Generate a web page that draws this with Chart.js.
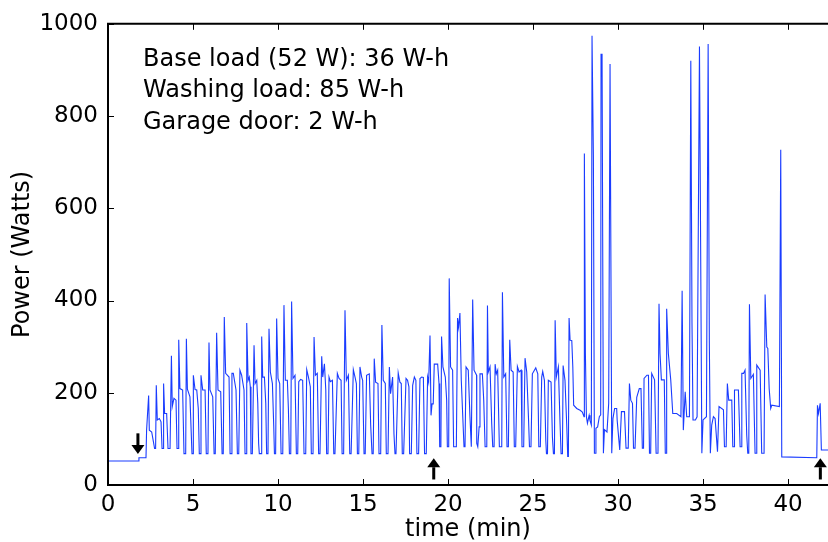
<!DOCTYPE html>
<html>
<head>
<meta charset="utf-8">
<script src="https://cdn.jsdelivr.net/npm/chart.js@4.4.0/dist/chart.umd.min.js"></script>
<style>
  html, body { margin: 0; padding: 0; background: #fff; }
</style>
</head>
<body>
<canvas id="power-chart" width="828" height="542"></canvas>
<script>
// power readings, split into stretches of the wash
const startT = [0, 1.82, 1.82, 2.235, 2.27, 2.39, 2.43, 2.57, 2.67, 2.74,
  2.80, 2.84, 2.90, 3.02, 3.12, 3.18, 3.24, 3.27, 3.33, 3.45,
  3.53, 3.65, 3.73, 3.78, 3.88, 4.00, 4.06, 4.14, 4.16, 4.23,
  4.39, 4.47, 4.57, 4.61, 4.67, 4.82, 4.94, 5.00, 5.02, 5.12,
  5.22, 5.31, 5.37, 5.43, 5.47, 5.57, 5.71, 5.78, 5.88, 5.94,
  6.00, 6.16, 6.24, 6.31, 6.39, 6.47, 6.63, 6.71, 6.78, 6.84,
  6.92, 7.12, 7.18, 7.26, 7.29, 7.37, 7.53, 7.61, 7.69, 7.76,
  7.86, 8.00, 8.06, 8.14];
const startW = [52, 52, 59, 59, 119, 194, 119, 115, 94, 79,
  79, 216, 141, 144, 137, 79, 79, 220, 155, 155,
  79, 79, 280, 170, 188, 184, 79, 79, 315, 209,
  206, 68, 68, 317, 208, 191, 68, 68, 238, 207,
  206, 166, 68, 68, 238, 206, 206, 68, 68, 309,
  206, 191, 68, 68, 330, 206, 202, 68, 68, 364,
  242, 234, 68, 68, 242, 242, 206, 68, 68, 249,
  238, 206, 68, 68];

const washT = [8.16, 8.24, 8.31, 8.37, 8.41, 8.49, 8.59, 8.65, 8.75, 8.81,
  8.86, 8.90, 9.00, 9.04, 9.10, 9.20, 9.28, 9.33, 9.41, 9.47,
  9.55, 9.67, 9.75, 9.79, 9.86, 9.92, 10.0, 10.1, 10.18, 10.28,
  10.35, 10.43, 10.55, 10.61, 10.67, 10.75, 10.80, 10.88, 11.0, 11.08,
  11.16, 11.22, 11.33, 11.45, 11.53, 11.63, 11.69, 11.79, 11.90, 11.96,
  12.06, 12.12, 12.20, 12.31, 12.39, 12.47, 12.57, 12.63, 12.73, 12.81,
  12.86, 12.94, 13.0, 13.08, 13.2, 13.28, 13.35, 13.49, 13.59, 13.71,
  13.77, 13.86, 13.94, 14.02, 14.14, 14.22, 14.30, 14.43, 14.53, 14.61,
  14.67, 14.75, 14.82, 14.92];
const washW = [351, 227, 234, 213, 68, 68, 303, 220, 227, 177,
  90, 68, 68, 322, 234, 234, 177, 68, 68, 339,
  245, 220, 126, 68, 68, 361, 231, 220, 68, 68,
  390, 227, 227, 166, 68, 68, 398, 231, 238, 68,
  68, 224, 229, 227, 68, 68, 250, 234, 213, 68,
  68, 321, 238, 242, 68, 68, 279, 234, 263, 206,
  68, 68, 234, 224, 227, 68, 68, 242, 231, 227,
  68, 68, 379, 227, 238, 68, 68, 250, 234, 220,
  68, 68, 256, 234];

const rinseT = [14.98, 15.06, 15.13, 15.21, 15.37, 15.45, 15.53, 15.60, 15.66, 15.74,
  15.88, 15.94, 16.04, 16.11, 16.19, 16.31, 16.37, 16.47, 16.55, 16.62,
  16.74, 16.82, 16.88, 16.94, 17.07, 17.17, 17.25, 17.31, 17.39, 17.53,
  17.62, 17.70, 17.74, 17.84, 17.92, 18.02, 18.11, 18.17, 18.27, 18.35,
  18.45, 18.55, 18.62, 18.72, 18.80, 18.86, 18.94, 19.0, 19.06, 19.13,
  19.19, 19.39, 19.47, 19.51, 19.58, 19.62, 19.70, 19.84, 19.92, 19.96,
  20.04, 20.07, 20.15, 20.27, 20.33, 20.49, 20.56, 20.62, 20.70, 20.78,
  20.86, 20.94, 21.0, 21.06, 21.19, 21.29, 21.37, 21.41, 21.45, 21.53,
  21.68];
const rinseW = [227, 68, 68, 238, 241, 130, 68, 68, 274, 223,
  220, 68, 68, 347, 227, 220, 68, 68, 256, 198,
  234, 111, 68, 68, 243, 223, 220, 68, 68, 231,
  227, 213, 68, 68, 216, 234, 227, 68, 68, 231,
  234, 233, 68, 68, 234, 223, 324, 151, 176, 176,
  262, 262, 220, 83, 83, 322, 256, 234, 184, 83,
  83, 448, 256, 249, 83, 83, 362, 342, 373, 227,
  155, 83, 83, 256, 249, 148, 83, 83, 402, 249,
  238];

const lateT = [21.69, 21.75, 21.83, 21.88, 22.02, 22.1, 22.18, 22.28, 22.32, 22.37,
  22.47, 22.57, 22.63, 22.71, 22.77, 22.84, 22.92, 23.02, 23.16, 23.2,
  23.28, 23.39, 23.47, 23.55, 23.63, 23.71, 23.83, 23.90, 23.98, 24.08,
  24.18, 24.30, 24.35, 24.45, 24.53, 24.63, 24.73, 24.79, 24.88, 24.96,
  25.16, 25.28, 25.34, 25.43, 25.51, 25.57, 25.67, 25.75, 25.79, 25.85,
  25.90, 26.06, 26.14, 26.20, 26.26, 26.30, 26.37, 26.49, 26.59, 26.65,
  26.73, 26.77, 26.88, 26.98, 27.04, 27.08, 27.12, 27.18, 27.28, 27.34,
  27.39, 27.57, 27.77, 27.90, 28.00];
const lateW = [90, 83, 126, 241, 241, 184, 83, 83, 389, 245,
  256, 133, 83, 83, 262, 241, 249, 83, 83, 418,
  234, 241, 83, 83, 315, 249, 245, 83, 83, 257,
  245, 249, 83, 83, 275, 245, 148, 83, 83, 241,
  254, 241, 83, 83, 234, 246, 227, 97, 68, 68,
  227, 223, 104, 68, 68, 357, 234, 256, 133, 68,
  68, 259, 227, 133, 62, 62, 362, 314, 313, 256,
  173, 166, 162, 158, 148];

const spinT = [28.02, 28.08, 28.14, 28.2, 28.3, 28.35, 28.43, 28.47, 28.5, 28.55,
  28.61, 28.65, 28.7, 28.8, 28.9, 28.98, 29.0, 29.06, 29.14, 29.2,
  29.35, 29.45, 29.53, 29.57, 29.63, 29.7, 29.8, 29.92, 29.95, 30.1,
  30.2, 30.38, 30.47, 30.6, 30.67, 30.75, 30.85, 30.91, 31.0, 31.1,
  31.25, 31.35, 31.43, 31.5, 31.53, 31.7, 31.79, 31.85, 31.92, 31.98,
  32.15, 32.24, 32.35, 32.41, 32.47, 32.55, 32.72, 32.78, 32.84, 32.86,
  32.96, 33.1, 33.22, 33.45, 33.7, 33.77, 33.84, 33.95, 34.04, 34.2,
  34.28, 34.35, 34.41, 34.55, 34.65, 34.79, 34.93, 35.0, 35.2, 35.3,
  35.37, 35.43, 35.51, 35.61, 35.71, 35.85, 35.94, 36.2, 36.26, 36.36,
  36.43, 36.51, 36.69, 36.75, 36.83, 36.85, 37.08, 37.18, 37.24, 37.28,
  37.38, 37.47, 37.57, 37.63, 37.69, 37.73, 37.81, 37.96, 38.06, 38.12,
  38.16, 38.36, 38.45, 38.59, 38.65, 38.75, 38.81, 38.89, 38.98, 39.04,
  39.49, 39.57, 39.63, 41.69, 41.73, 41.79, 41.89, 41.96, 42.36];
const spinW = [719, 285, 148, 134, 151, 140, 130, 974, 974, 712,
  69, 69, 123, 126, 148, 152, 934, 934, 69, 120,
  115, 177, 913, 913, 69, 144, 166, 166, 140, 76,
  159, 159, 80, 80, 220, 184, 177, 80, 80, 190,
  209, 209, 80, 80, 231, 238, 238, 69, 69, 242,
  228, 69, 69, 393, 285, 228, 228, 69, 69, 382,
  285, 228, 155, 155, 148, 421, 119, 202, 148, 148,
  920, 351, 141, 141, 148, 951, 69, 141, 148, 956,
  310, 69, 130, 148, 144, 72, 170, 163, 83, 83,
  220, 184, 184, 83, 83, 206, 206, 83, 83, 242,
  242, 249, 108, 69, 69, 392, 231, 240, 69, 69,
  260, 249, 69, 69, 413, 299, 296, 209, 166, 173,
  170, 727, 61, 59, 173, 155, 177, 76, 76];

const xTicksStep = 5;
const yTicks = [0, 200, 400, 600, 800, 1000];
const notes = ['Base load (52 W): 36 W-h', 'Washing load: 85 W-h', 'Garage door: 2 W-h'];
// arrow markers: time, tail and tip in watts
const arrowT = [1.76, 19.16, 41.9];
const arrowFrom = [112, 12, 12];
const arrowTo = [67, 58, 58];

const stretches = [[startT, startW], [washT, washW], [rinseT, rinseW], [lateT, lateW], [spinT, spinW]];
let points = [];
stretches.forEach(([ts, ws]) => {
  if (ts.length !== ws.length) throw new Error('length mismatch ' + ts[0] + ': ' + ts.length + ' vs ' + ws.length);
  ts.forEach((t, i) => points.push({x: t, y: ws[i]}));
});

const FONT = 'DejaVu Sans';

const framePlugin = {
  id: 'frame',
  afterDatasetsDraw(chart) {
    const {ctx, chartArea: a, scales: {x, y}} = chart;
    ctx.save();
    ctx.strokeStyle = '#000';
    ctx.lineWidth = 1;
    ctx.beginPath();
    x.ticks.forEach(t => {
      const px = Math.round(x.getPixelForValue(t.value)) + 0.5;
      ctx.moveTo(px, a.bottom); ctx.lineTo(px, a.bottom - 6);
      ctx.moveTo(px, a.top); ctx.lineTo(px, a.top + 6);
    });
    y.ticks.forEach(t => {
      const py = Math.round(y.getPixelForValue(t.value)) + 0.5;
      ctx.moveTo(a.left, py); ctx.lineTo(a.left + 6, py);
    });
    ctx.stroke();

    // spines (right one falls off the picture)
    ctx.lineWidth = 2;
    ctx.beginPath();
    ctx.moveTo(a.right + 2, a.top); ctx.lineTo(a.left, a.top); ctx.lineTo(a.left, a.bottom); ctx.lineTo(a.right + 2, a.bottom);
    ctx.stroke();

    // arrows
    ctx.fillStyle = '#000';
    arrowT.forEach((t, i) => {
      const px = x.getPixelForValue(t);
      const p0 = y.getPixelForValue(arrowFrom[i]);
      const p1 = y.getPixelForValue(arrowTo[i]);
      const dir = p1 > p0 ? 1 : -1;
      const headBase = p1 - dir * 9;
      ctx.fillRect(px - 1.5, Math.min(p0, headBase), 3, Math.abs(headBase - p0));
      ctx.beginPath();
      ctx.moveTo(px - 6.5, headBase); ctx.lineTo(px + 6.5, headBase); ctx.lineTo(px, p1);
      ctx.closePath(); ctx.fill();
    });

    // energy notes
    ctx.font = '24px "' + FONT + '"';
    ctx.textBaseline = 'alphabetic';
    ctx.textAlign = 'left';
    notes.forEach((s, i) => ctx.fillText(s, a.left + 35, a.top + 42 + i * 31.5));
    ctx.restore();
  }
};

new Chart(document.getElementById('power-chart'), {
  type: 'line',
  data: {
    datasets: [{
      data: points,
      borderColor: '#1a3cff',
      borderWidth: 1.1,
      pointRadius: 0,
      tension: 0,
      fill: false
    }]
  },
  options: {
    responsive: false,
    animation: false,
    events: [],
    layout: { padding: { top: 23, right: 0, left: 0, bottom: 0 } },
    plugins: { legend: { display: false }, tooltip: { enabled: false } },
    scales: {
      x: {
        type: 'linear',
        min: 0,
        max: 42.35,
        grid: { display: false, drawTicks: false },
        border: { display: false },
        ticks: { stepSize: xTicksStep, includeBounds: false, padding: 6, color: '#000', maxRotation: 0, font: { family: FONT, size: 23 } },
        title: { display: true, text: 'time (min)', color: '#000', padding: { top: 0, bottom: -2 }, font: { family: FONT, size: 24 } },
        afterFit: s => { s.height = 57; }
      },
      y: {
        min: 0,
        max: 1000,
        grid: { display: false, drawTicks: false },
        border: { display: false },
        afterBuildTicks: s => { s.ticks = yTicks.map(v => ({value: v})); },
        ticks: { padding: 10, color: '#000', font: { family: FONT, size: 23 }, callback: v => String(v) },
        title: { display: true, text: 'Power (Watts)', color: '#000', padding: { top: 8, bottom: 0 }, font: { family: FONT, size: 24 } },
        afterFit: s => { s.width = 108; }
      }
    }
  },
  plugins: [framePlugin]
});
</script>
</body>
</html>
